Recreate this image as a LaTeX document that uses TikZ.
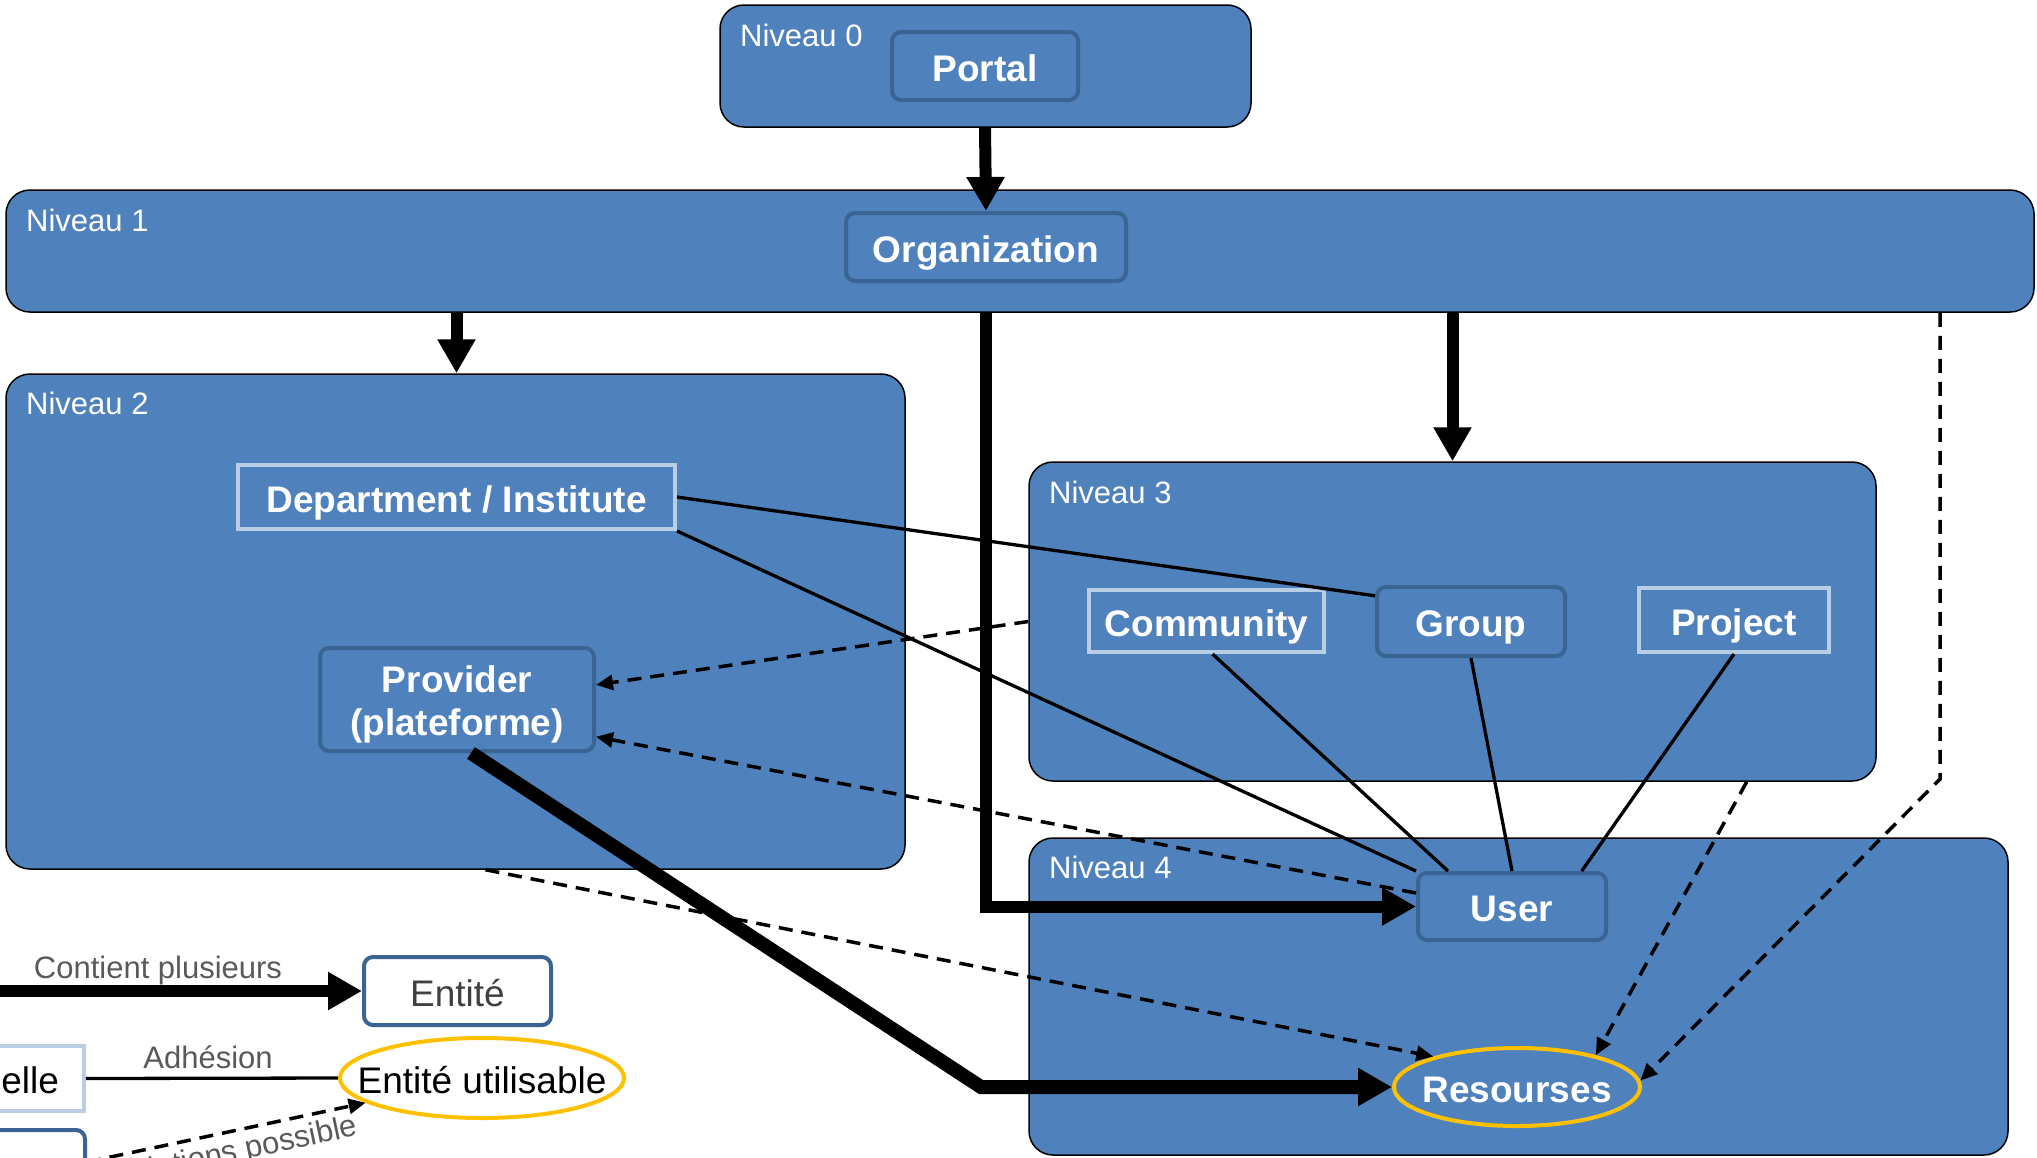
\documentclass[tikz,border=0pt]{standalone}
\usepackage{fontspec}
\setmainfont{Liberation Sans}
\usetikzlibrary{arrows.meta,shapes.geometric,calc}
\definecolor{boxblue}{HTML}{4F81BD}
\definecolor{darkb}{HTML}{3A6494}
\definecolor{lightb}{HTML}{B9CDE5}
\definecolor{orng}{HTML}{FFC000}
\definecolor{lblgray}{HTML}{595959}
\definecolor{entgray}{HTML}{404040}
\begin{document}
\begin{tikzpicture}[x=1pt,y=-1pt,
  level/.style={draw=black,line width=1.5pt,fill=boxblue,rounded corners=24pt,inner sep=0pt},
  lvltext/.style={anchor=base west,text=white,inner sep=0pt,font=\fontsize{31}{34}\selectfont},
  ctr/.style={text height=36pt,text depth=6pt},
  boldfont/.style={font=\fontsize{37}{43}\selectfont\bfseries},
  ent/.style={draw=darkb,line width=4pt,fill=boxblue,rounded corners=9pt,inner sep=0pt,text=white,boldfont,align=center},
  vent/.style={draw=lightb,line width=4pt,fill=boxblue,inner sep=0pt,text=white,boldfont,ctr},
  uent/.style={ellipse,draw=orng,line width=4pt,inner ysep=0pt,ctr},
  regfont/.style={font=\fontsize{37}{43}\selectfont},
  contains/.style={line width=12pt,-{Triangle[length=34pt,width=36pt]}},
  member/.style={line width=3.3pt},
  possible/.style={line width=3.5pt,dash pattern=on 14pt off 9pt,-{Triangle[length=17pt,width=15pt]}},
  lbl/.style={text=lblgray,font=\fontsize{31}{34}\selectfont,inner sep=0pt}
]
\clip (0,0) rectangle (2037,1157);
% levels
\node[level,minimum width=531pt,minimum height=122pt] (n0) at (985.5,66) {};
\node[level,minimum width=2028pt,minimum height=122pt] (n1) at (1020,251) {};
\node[level,minimum width=899pt,minimum height=495pt] (n2) at (455.5,621.5) {};
\node[level,minimum width=847pt,minimum height=319pt] (n3) at (1452.5,621.5) {};
\node[level,minimum width=979pt,minimum height=317pt] (n4) at (1518.5,996.5) {};
\node[lvltext] (l0) at (740,46) {Niveau 0};
\node[lvltext] (l1) at (26,231) {Niveau 1};
\node[lvltext] (l2) at (26,414) {Niveau 2};
\node[lvltext] (l3) at (1049,503) {Niveau 3};
\node[lvltext] (l4) at (1049,878) {Niveau 4};
% entities
\node[ent,ctr,minimum width=186pt,minimum height=68pt] (portal) at (985,66) {Portal};
\node[ent,ctr,minimum width=280pt,minimum height=68pt] (org) at (986,247) {Organization};
\node[vent,minimum width=437pt,minimum height=64pt] (dept) at (456.5,497) {Department / Institute};
\node[ent,minimum width=274pt,minimum height=103pt] (prov) at (457,699.5) {};
\node[text=white,boldfont,align=center,inner sep=0pt] (provtext) at (457,704) {Provider\\(plateforme)};
\node[vent,minimum width=235pt,minimum height=62pt] (comm) at (1206.5,621) {Community};
\node[ent,ctr,minimum width=188pt,minimum height=69pt] (grp) at (1471,621.5) {Group};
\node[vent,minimum width=190pt,minimum height=64pt] (proj) at (1734,620) {Project};
\node[ent,ctr,minimum width=188pt,minimum height=67pt] (user) at (1512,906.5) {User};
\node[uent,fill=boxblue,text=white,boldfont,inner xsep=-8pt,minimum width=246pt,minimum height=78pt] (res) at (1517,1087) {Resourses};
% legend
\node[ent,ctr,fill=white,text=entgray,regfont,minimum width=187pt,minimum height=68pt] (lent) at (457.5,991) {Entité};
\node[uent,fill=white,text=black,regfont,inner xsep=-24pt,minimum width=282pt,minimum height=80pt] (lentu) at (482,1078) {Entité utilisable};
\node[vent,fill=white,text=black,regfont,anchor=east,text width=340pt,align=right,inner xsep=25pt,minimum height=65pt] (lvirt) at (86,1078.5) {Entité fonctionnelle};
\node[ent,fill=white,anchor=east,minimum width=300pt,minimum height=64pt] (lcomp) at (87,1162) {};
\coordinate (lstart) at (0,991);
\draw[contains] (lstart) -- (lent.west);
\node[lbl,anchor=base] (tcont) at (158,978) {Contient plusieurs};
\draw[member] (lvirt.east) -- (lentu.west);
\node[lbl,anchor=base] (tadh) at (208,1068) {Adhésion};
\draw[possible] (lcomp.east) -- (lentu);
\node[lbl,anchor=base east,rotate=12] (tposs) at (359,1135) {Relations possible};
% main connectors
\draw[contains] (n0.south -| portal) -- (org.north);
\draw[contains] (n1.south -| dept) -- (n2.north -| dept);
\draw[contains] (n1.south -| n3.north) -- (n3.north);
\draw[contains] (n1.south -| org) |- (user.west);
\coordinate (pbend) at (981,1087);
\draw[contains,line width=14pt] ([xshift=14pt]prov.south) -- (pbend) -- (res.west);
\draw[member] (dept.east) -- (grp.165);
\draw[member] (dept.south east) -- (user.north west);
\draw[member] ([xshift=6pt]comm.south) -- (user.151);
\draw[member] (grp.south) -- (user.north);
\draw[member] (proj.south) -- (user.27);
\draw[possible] (n3.west) -- (prov.6);
\draw[possible] (user.172) -- (prov.345);
\draw[possible] ([xshift=30pt]n2.south) -- (res.160);
\draw[possible] ([xshift=-130pt]n3.south east) -- (res.22);
\coordinate (rbend) at (1940,779);
\draw[possible] (n1.south -| rbend) -- (rbend) -- (res.3);
\end{tikzpicture}
\end{document}
